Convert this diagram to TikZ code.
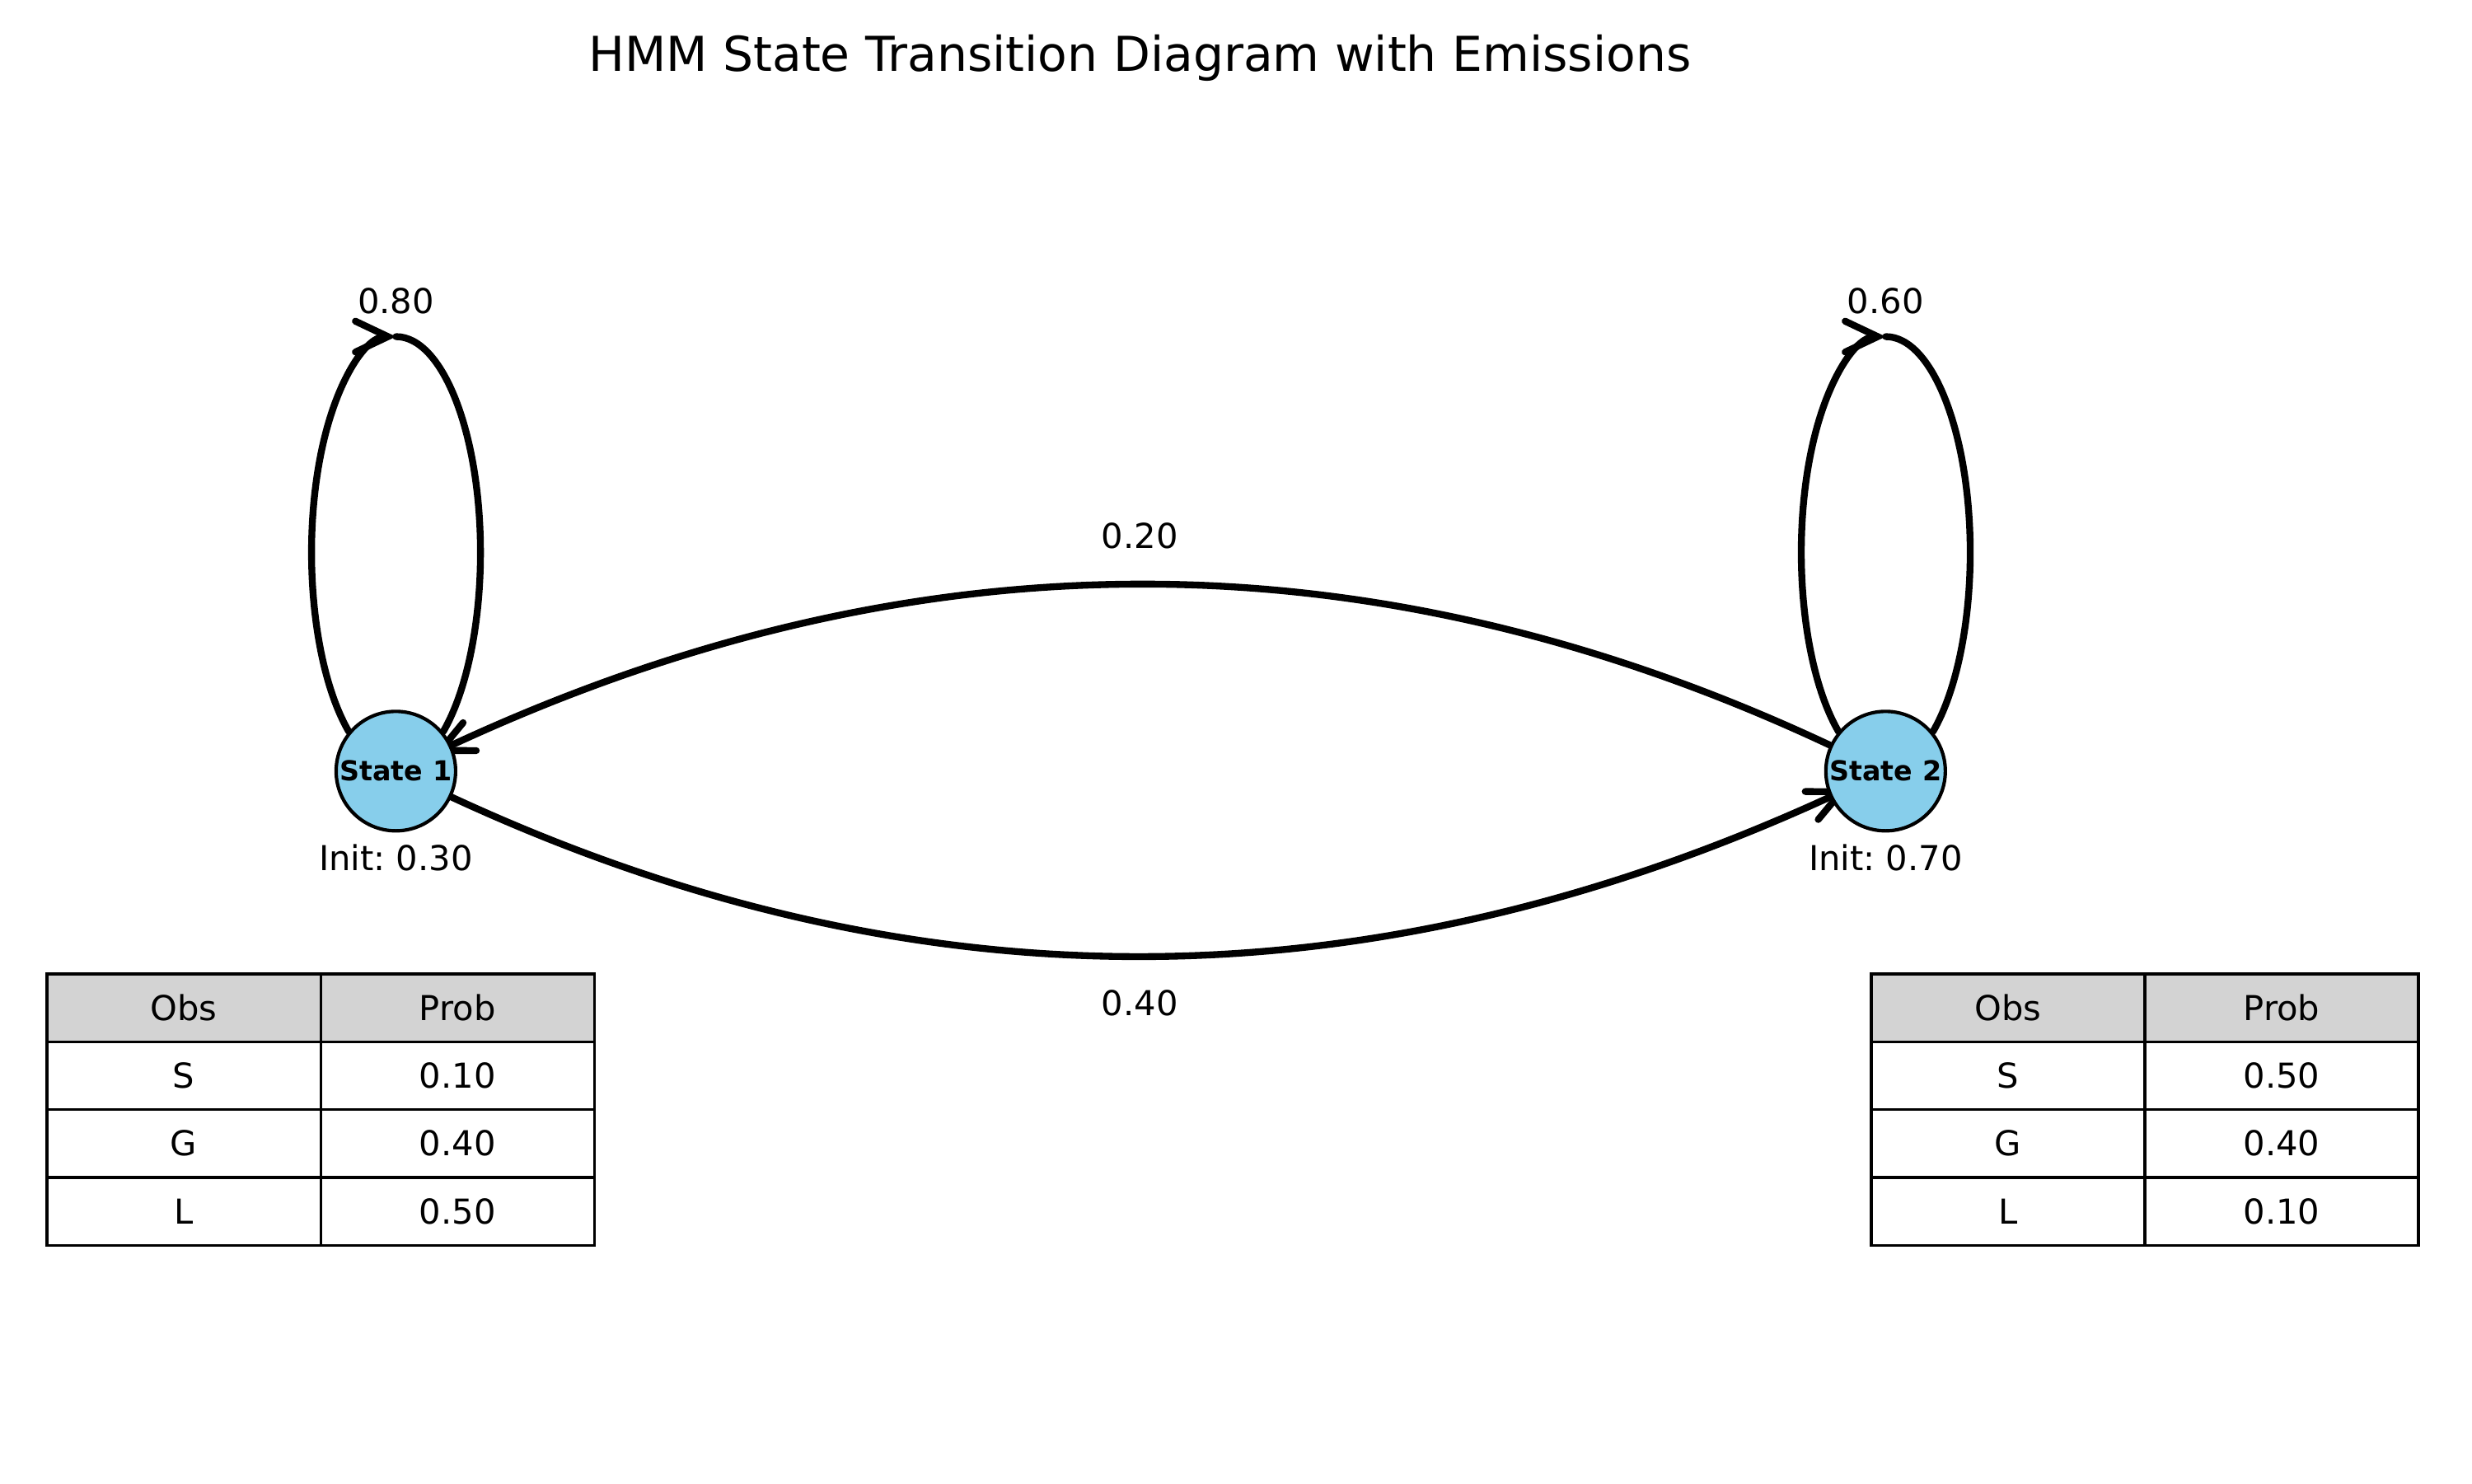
\documentclass[tikz,border=0pt]{standalone}
\usepackage{fontspec}
\setmainfont{DejaVu Sans}
\usetikzlibrary{arrows.meta,backgrounds}
\definecolor{skyb}{HTML}{87CEEB}
\definecolor{hdr}{HTML}{D3D3D3}
\frenchspacing
\begin{document}
\begin{tikzpicture}[x=1pt,y=1pt,
  state/.style={circle, draw=black, line width=1pt, fill=skyb, minimum size=34.8pt, inner sep=0pt, font=\fontsize{8}{9}\selectfont\bfseries},
  lbl/.style={font=\fontsize{10}{12}\selectfont, inner sep=0pt},
  edge/.style={line width=2pt, line cap=round, -{Straight Barb[length=9.5pt,width=9pt,line cap=round]}},
  plainedge/.style={line width=2pt, line cap=round},
  cell/.style={draw=black, line width=0.8pt, minimum width=79.7pt, minimum height=19.75pt, inner sep=0pt, anchor=north west, font=\fontsize{10}{12}\selectfont},
  hcell/.style={cell, fill=hdr}]
\useasboundingbox (0,0) rectangle (720,432);

\node[font=\fontsize{14}{16}\selectfont, inner sep=0pt] (title) at (332,415) {HMM State Transition Diagram with Emissions};

\node[state] (s1) at (115.3,207.4) {State 1};
\node[state] (s2) at (549.2,207.4) {State 2};

\begin{pgfonlayer}{background}
% self loops
\draw[edge] (s1.140) arc[start angle=236, end angle=90, x radius=24.6pt, y radius=62.9pt] coordinate (l1top);
\draw[plainedge] (l1top) arc[start angle=90, end angle=-56, x radius=24.6pt, y radius=62.9pt];
\draw[edge] (s2.140) arc[start angle=236, end angle=90, x radius=24.6pt, y radius=62.9pt] coordinate (l2top);
\draw[plainedge] (l2top) arc[start angle=90, end angle=-56, x radius=24.6pt, y radius=62.9pt];

% transitions
\draw[edge, shorten >=-6pt] (s2.155) .. controls (399.3,277.7) and (265.1,277.7) .. (s1.25);
\draw[edge, shorten >=-6pt] (s1.335) .. controls (265.5,137.7) and (399.1,137.7) .. (s2.205);
\end{pgfonlayer}

% labels
\node[lbl] (p11) at (115.3,344.3) {0.80};
\node[lbl] (p22) at (549.2,344.3) {0.60};
\node[lbl] (p12) at (332,275.9) {0.20};
\node[lbl] (p21) at (332,139.9) {0.40};
\node[lbl] (i1) at (115.3,182.2) {Init: 0.30};
\node[lbl] (i2) at (549.2,182.2) {Init: 0.70};

% emission tables
\foreach \tb/\x/\a/\b/\c in {L/13.3/0.10/0.40/0.50, R/544.6/0.50/0.40/0.10} {
  \node[hcell] (\tb o0) at (\x,148.7) {Obs};
  \node[hcell] (\tb p0) at (\x+79.7,148.7) {Prob};
  \node[cell] (\tb o1) at (\x,128.95) {S};
  \node[cell] (\tb p1) at (\x+79.7,128.95) {\a};
  \node[cell] (\tb o2) at (\x,109.2) {G};
  \node[cell] (\tb p2) at (\x+79.7,109.2) {\b};
  \node[cell] (\tb o3) at (\x,89.45) {L};
  \node[cell] (\tb p3) at (\x+79.7,89.45) {\c};
}
\end{tikzpicture}
\end{document}
